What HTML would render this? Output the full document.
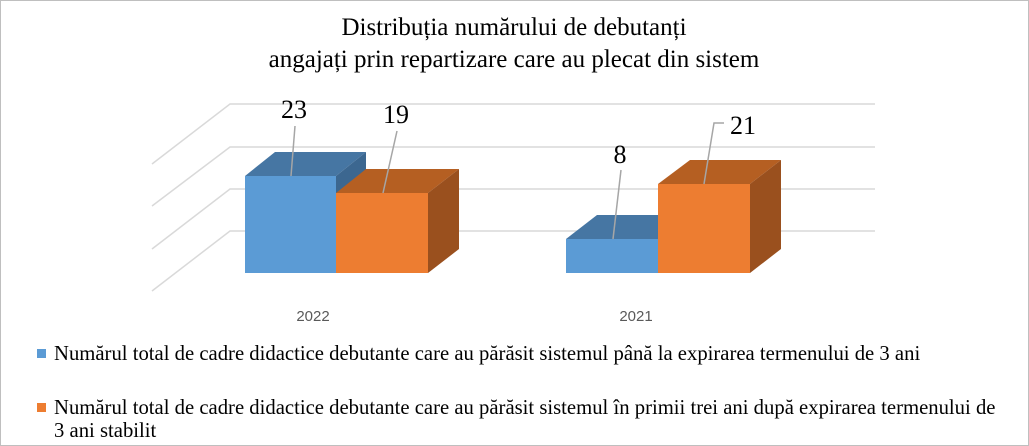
<!DOCTYPE html>
<html><head><meta charset="utf-8"><style>
body{margin:0;background:#fff}
svg{display:block}
</style></head><body>
<svg width="1029" height="446" xmlns="http://www.w3.org/2000/svg">
<rect x="0.5" y="0.5" width="1028" height="445" fill="#fff" stroke="#bfbfbf"/>
<g font-family="Liberation Serif, serif" font-size="25" fill="#000" text-anchor="middle">
<text x="514" y="35">Distribuția numărului de debutanți</text>
<text x="514" y="67">angajați prin repartizare care au plecat din sistem</text>
</g>
<g stroke="#d9d9d9" stroke-width="1.5" fill="none">
<polyline points="152,164 230,104 875,104"/>
<polyline points="152,206 230,147 875,147"/>
<polyline points="152,249 230,189 875,189"/>
<polyline points="152,291 230,231 875,231"/>
</g>
<polygon points="245,176 275,152 366,152 336,176" fill="#4676a3"/>
<polygon points="336,176 366,152 366,249 336,273" fill="#3c6790"/>
<rect x="245" y="176" width="91" height="97" fill="#5b9bd5"/>
<polygon points="336,193 366,169 459,169 428,193" fill="#b55f22"/>
<polygon points="428,193 459,169 459,249 428,273" fill="#9a501e"/>
<rect x="336" y="193" width="92" height="80" fill="#ed7d31"/>
<polygon points="566,239 597,215 689,215 658,239" fill="#4676a3"/>
<rect x="566" y="239" width="92" height="34" fill="#5b9bd5"/>
<polygon points="658,184 690,160 781,160 750,184" fill="#b55f22"/>
<polygon points="750,184 781,160 781,249 750,273" fill="#9a501e"/>
<rect x="658" y="184" width="92" height="89" fill="#ed7d31"/>
<g stroke="#a6a6a6" stroke-width="1.5" fill="none">
<line x1="295" y1="126" x2="291" y2="176"/>
<line x1="397" y1="131" x2="383" y2="193"/>
<line x1="621" y1="170" x2="613" y2="239"/>
<polyline points="724,123 714,123 704,184"/>
</g>
<g font-family="Liberation Serif, serif" font-size="26" fill="#000" text-anchor="middle">
<text x="294" y="118">23</text>
<text x="396" y="123">19</text>
<text x="620" y="163">8</text>
<text x="743" y="134">21</text>
</g>
<g font-family="Liberation Sans, sans-serif" font-size="15" fill="#595959" text-anchor="middle">
<text x="313" y="321">2022</text>
<text x="636" y="321">2021</text>
</g>
<rect x="37" y="349" width="9" height="9" fill="#5b9bd5"/>
<rect x="37" y="403" width="9" height="9" fill="#ed7d31"/>
<g font-family="Liberation Serif, serif" font-size="20.7" fill="#000">
<text x="54" y="360">Numărul total de cadre didactice debutante care au părăsit sistemul până la expirarea termenului de 3 ani</text>
<text x="54" y="414">Numărul total de cadre didactice debutante care au părăsit sistemul în primii trei ani după expirarea termenului de</text>
<text x="54" y="437">3 ani stabilit</text>
</g>
</svg>
</body></html>
